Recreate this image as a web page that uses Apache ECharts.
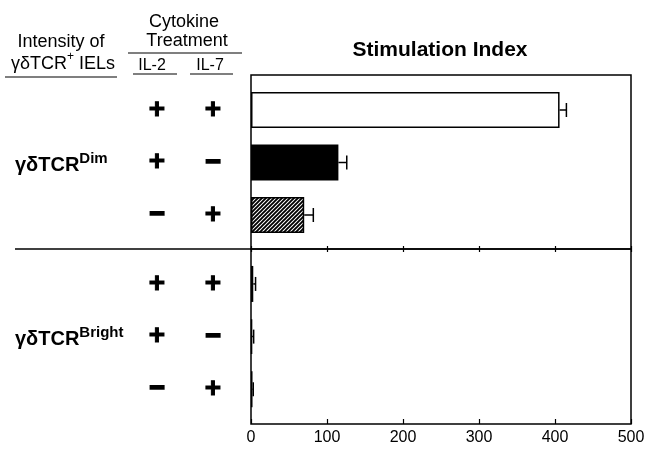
<!DOCTYPE html>
<html><head><meta charset="utf-8">
<script src="https://cdn.jsdelivr.net/npm/echarts@6/dist/echarts.min.js"></script>
<style>html,body{margin:0;padding:0;background:#fff}#c{width:646px;height:451px}</style>
</head><body><div id="c"></div>
<script>
// ---- data ----
const xTickInterval = 100;
const xMin = 0, xMax = 500;
const rowIds = ['r1', 'r2', 'r3'];
const il2 = ['+', '+', '−'];
const il7 = ['+', '−', '+'];
const dimValues = [406, 115, 70];
const dimErrors = [9, 11, 12];
const brightValues = [3, 1.5, 2];
const brightErrors = [3, 2, 1];
const groupNames = ['Dim', 'Bright'];

// ---- styles ----
const FONT = 'Liberation Sans, Arial, Helvetica, sans-serif';
const hc = document.createElement('canvas'); hc.width = 4; hc.height = 4;
const hctx = hc.getContext('2d');
hctx.fillStyle = '#fff'; hctx.fillRect(0, 0, 4, 4);
hctx.strokeStyle = '#000'; hctx.lineWidth = 1.9;
hctx.beginPath();
hctx.moveTo(-1, 5); hctx.lineTo(5, -1);
hctx.moveTo(-1, 1); hctx.lineTo(1, -1);
hctx.moveTo(3, 5); hctx.lineTo(5, 3);
hctx.stroke();
const rowStyles = [
  { color: '#fff', borderColor: '#000', borderWidth: 1.5 },
  { color: '#000', borderColor: '#000', borderWidth: 1.5 },
  { color: { image: hc, repeat: 'repeat' }, borderColor: '#000', borderWidth: 1.5 }
];

const chart = echarts.init(document.getElementById('c'), null, { renderer: 'canvas' });

const signRich = {
  p: { fontSize: 28, fontWeight: 'bold', fontFamily: FONT, color: '#000', textBorderColor: '#000', textBorderWidth: 1 },
  m: { fontSize: 26, fontWeight: 'bold', fontFamily: FONT, color: '#000', textBorderColor: '#000', textBorderWidth: 2 }
};
function signFmt(arr) {
  return function (v, i) { return arr[i] === '+' ? '{p|+}' : '{m|−}'; };
}
function signAxis(gridIndex, arr, margin) {
  return {
    type: 'category', gridIndex: gridIndex, data: rowIds, inverse: true, position: 'left', offset: 0,
    axisLine: { show: false }, axisTick: { show: false }, splitLine: { show: false },
    axisLabel: { formatter: signFmt(arr), margin: margin, align: 'center', rich: signRich }
  };
}
function hiddenX(gridIndex) {
  return { type: 'value', gridIndex: gridIndex, min: xMin, max: xMax, interval: xTickInterval, show: false };
}
function barsFor(values, xi, yi) {
  return {
    type: 'bar', xAxisIndex: xi, yAxisIndex: yi, barWidth: 36, silent: true,
    data: values.map(function (v, i) { return { value: v, itemStyle: rowStyles[i] }; })
  };
}
function errFor(values, errs, xi, yi) {
  return {
    type: 'custom', xAxisIndex: xi, yAxisIndex: yi, silent: true,
    encode: { x: 0, y: 1 },
    data: values.map(function (v, i) { return [v, i, errs[i]]; }),
    renderItem: function (params, api) {
      const v = api.value(0), y = api.value(1), e = api.value(2);
      const p0 = api.coord([v, y]);
      const p1 = api.coord([v + e, y]);
      const st = { stroke: '#000', lineWidth: 1.5 };
      return {
        type: 'group', children: [
          { type: 'line', shape: { x1: p0[0], y1: p0[1], x2: p1[0], y2: p1[1] }, style: st },
          { type: 'line', shape: { x1: p1[0], y1: p1[1] - 7, x2: p1[0], y2: p1[1] + 7 }, style: st }
        ]
      };
    }
  };
}

function txt(text, x, y, size, weight, align) {
  return { type: 'text', x: x, y: y, silent: true,
    style: { text: text, fontSize: size, fontWeight: weight || 'normal', fontFamily: FONT, fill: '#000',
      textAlign: align || 'center', textVerticalAlign: 'middle' } };
}
function hline(x1, x2, y, w) {
  return { type: 'line', silent: true, shape: { x1: x1, y1: y, x2: x2, y2: y }, style: { stroke: '#000', lineWidth: w || 1.2 } };
}
function groupLabel(sup, y) {
  return { type: 'text', x: 15, y: y, silent: true,
    style: { text: '{a|γδTCR}{s|' + sup + '}', textAlign: 'left', textVerticalAlign: 'middle',
      rich: {
        a: { fontSize: 20, fontWeight: 'bold', fontFamily: FONT, color: '#000', lineHeight: 24, verticalAlign: 'bottom' },
        s: { fontSize: 15, fontWeight: 'bold', fontFamily: FONT, color: '#000', lineHeight: 14, verticalAlign: 'top' }
      } } };
}

const gridBase = { left: 251, width: 380, containLabel: false, outerBoundsMode: 'none' };
const option = {
  animation: false,
  backgroundColor: '#fff',
  grid: [
    Object.assign({ top: 75, height: 174, show: true, borderColor: '#000', borderWidth: 1.5, backgroundColor: 'transparent' }, gridBase),
    Object.assign({ top: 249, height: 175, show: true, borderColor: '#000', borderWidth: 1.5, backgroundColor: 'transparent' }, gridBase),
    Object.assign({ top: 83.75, height: 157.5 }, gridBase),
    Object.assign({ top: 257.6, height: 158 }, gridBase)
  ],
  xAxis: [
    { type: 'value', gridIndex: 0, min: xMin, max: xMax, interval: xTickInterval, position: 'bottom',
      axisLine: { show: false }, axisTick: { show: true, inside: true, length: 3, lineStyle: { color: '#000', width: 1.2 } },
      axisLabel: { show: false }, splitLine: { show: false } },
    { type: 'value', gridIndex: 1, min: xMin, max: xMax, interval: xTickInterval, position: 'bottom',
      axisLine: { show: false }, axisTick: { show: true, inside: true, length: 5, lineStyle: { color: '#000', width: 1.2 } },
      axisLabel: { show: true, color: '#000', fontSize: 16, fontFamily: FONT, margin: 6 }, splitLine: { show: false } },
    { type: 'value', gridIndex: 1, min: xMin, max: xMax, interval: xTickInterval, position: 'top',
      axisLine: { show: false }, axisTick: { show: true, inside: true, length: 3, lineStyle: { color: '#000', width: 1.2 } },
      axisLabel: { show: false }, splitLine: { show: false } },
    hiddenX(2),
    hiddenX(3)
  ],
  yAxis: [
    { type: 'value', gridIndex: 0, show: false },
    { type: 'value', gridIndex: 1, show: false },
    signAxis(2, il7, 38),
    signAxis(2, il2, 94),
    signAxis(3, il7, 38),
    signAxis(3, il2, 94)
  ],
  series: [
    barsFor(dimValues, 3, 2),
    errFor(dimValues, dimErrors, 3, 2),
    barsFor(brightValues, 4, 4),
    errFor(brightValues, brightErrors, 4, 4)
  ],
  graphic: [
    txt('Cytokine', 184, 22, 18),
    txt('Treatment', 187, 41, 18),
    hline(128, 242, 53),
    txt('IL-2', 152, 66, 16),
    txt('IL-7', 210, 66, 16),
    hline(133, 177, 74),
    hline(190, 233, 74),
    txt('Intensity of', 61, 42, 18),
    { type: 'text', x: 63, y: 62, silent: true,
      style: { text: '{a|γδTCR}{s|+}{a| IELs}', textAlign: 'center', textVerticalAlign: 'middle',
        rich: {
          a: { fontSize: 18, fontFamily: FONT, color: '#000', lineHeight: 22, verticalAlign: 'bottom' },
          s: { fontSize: 12, fontFamily: FONT, color: '#000', lineHeight: 12, verticalAlign: 'top' }
        } } },
    hline(5, 117, 77),
    txt('Stimulation Index', 440, 50, 21, 'bold'),
    hline(15, 251, 249, 1.5),
    groupLabel(groupNames[0], 163),
    groupLabel(groupNames[1], 337)
  ]
};
chart.setOption(option);
</script>
</body></html>
